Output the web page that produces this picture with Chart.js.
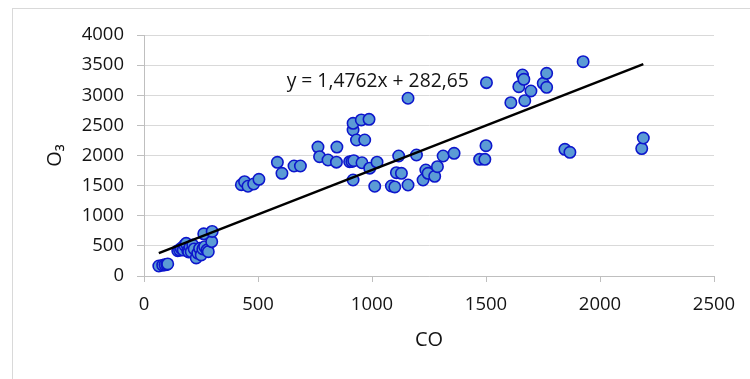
<!DOCTYPE html>
<html>
<head>
<meta charset="utf-8">
<script src="https://cdn.jsdelivr.net/npm/chart.js@4/dist/chart.umd.min.js"></script>
<style>
  html, body { margin: 0; padding: 0; background: #ffffff; }
  #wrap { width: 750px; height: 379px; position: relative; }
</style>
</head>
<body>
<div id="wrap"><canvas id="chart" width="750" height="379"></canvas></div>
<script>
// Paired CO / O3 observations
const coValues = [
  65, 82, 92, 100, 104,
  148, 156, 163, 172, 178, 185, 192, 196, 202, 207, 214, 220, 229, 236, 244, 251, 258, 262, 266, 276, 282, 297, 299,
  427, 441, 456, 481, 504,
  585, 605, 658, 686,
  763, 770, 807, 844, 846,
  902, 912, 920, 956, 917, 917, 917, 953, 987, 932, 968, 990, 1012, 1022,
  1085, 1100, 1107, 1129, 1117, 1158, 1158, 1195, 1224, 1236, 1246, 1275, 1287, 1312, 1360, 1472, 1495, 1500, 1502,
  1609, 1644, 1660, 1666, 1670, 1697, 1751, 1766, 1766, 1846, 1868, 1926, 2183, 2190
];
const o3Values = [
  166, 180, 186, 192, 200,
  420, 431, 459, 430, 514, 542, 415, 400, 480, 403, 514, 450, 300, 380, 459, 349, 450, 700, 487, 430, 403, 570, 740,
  1515, 1565, 1490, 1527, 1605,
  1887, 1704, 1826, 1826,
  2140, 1980, 1925, 1890, 2140,
  1897, 1900, 1914, 1880, 1593, 2423, 2534, 2590, 2600, 2257, 2257, 1790, 1490, 1890,
  1494, 1478, 1715, 1704, 1992, 1510, 2950, 2008, 1593, 1759, 1704, 1655, 1814, 1992, 2036, 1936, 1936, 2163, 3209,
  2877, 3142, 3336, 3265, 2910, 3071, 3198, 3132, 3364, 2103, 2053, 3557, 2115, 2290
];

// Axis ticks
const xTickValues = [0, 500, 1000, 1500, 2000, 2500];
const yTickValues = [0, 500, 1000, 1500, 2000, 2500, 3000, 3500, 4000];

// Linear trend (least squares fit)
const trendSlope = 1.4762;
const trendIntercept = 282.65;
const trendLabel = 'y = 1,4762x + 282,65';
const trendLabelAt = { x: 1025, y: 3220 };

const xTitle = 'CO';
const yTitle = 'O\u2083';

const FONT = "'Open Sans', 'Noto Sans', sans-serif";
const TEXT = '#141414';

const points = coValues.map((x, i) => ({ x: x, y: o3Values[i] }));
const xMin = Math.min(...coValues);
const xMax = Math.max(...coValues);
const trendPoints = [xMin, xMax].map(x => ({ x: x, y: trendSlope * x + trendIntercept }));

// Outer frame of the chart
const framePlugin = {
  id: 'frame',
  beforeDraw(chart) {
    const ctx = chart.ctx;
    ctx.save();
    ctx.fillStyle = '#ffffff';
    ctx.fillRect(0, 0, chart.width, chart.height);
    ctx.strokeStyle = '#d9d9d9';
    ctx.lineWidth = 1;
    ctx.strokeRect(12.5, 8.5, chart.width + 20, chart.height + 20);
    ctx.restore();
  }
};

// Equation of the trend line
const equationPlugin = {
  id: 'equation',
  afterDatasetsDraw(chart) {
    const ctx = chart.ctx;
    const px = chart.scales.x.getPixelForValue(trendLabelAt.x);
    const py = chart.scales.y.getPixelForValue(trendLabelAt.y);
    ctx.save();
    ctx.font = '19.3px ' + FONT;
    ctx.fillStyle = TEXT;
    ctx.textAlign = 'center';
    ctx.textBaseline = 'middle';
    ctx.fillText(trendLabel, px, py);
    ctx.restore();
  }
};

new Chart(document.getElementById('chart'), {
  type: 'scatter',
  data: {
    datasets: [
      {
        type: 'line',
        label: 'trend',
        data: trendPoints,
        borderColor: '#000000',
        borderWidth: 2.5,
        pointRadius: 0,
        fill: false,
        order: 0
      },
      {
        label: 'O3',
        data: points,
        backgroundColor: '#5b9bd5',
        borderColor: '#0d16cc',
        borderWidth: 1.6,
        pointRadius: 5.7,
        pointHoverRadius: 5.7,
        order: 1
      }
    ]
  },
  options: {
    responsive: false,
    animation: false,
    devicePixelRatio: 1,
    layout: { padding: { left: 0, top: 35, right: 36, bottom: 0 } },
    plugins: {
      legend: { display: false },
      tooltip: { enabled: false }
    },
    scales: {
      x: {
        type: 'linear',
        min: 0,
        max: 2500,
        afterBuildTicks(scale) { scale.ticks = xTickValues.map(v => ({ value: v })); },
        afterFit(scale) { scale.height = 103; },
        grid: {
          drawOnChartArea: false,
          drawTicks: true,
          tickLength: 6,
          tickColor: '#bfbfbf',
          color: '#bfbfbf'
        },
        border: { display: true, color: '#bfbfbf', width: 1 },
        ticks: {
          padding: 12,
          color: TEXT,
          font: { family: FONT, size: 18.5 },
          maxRotation: 0,
          callback: v => String(v)
        },
        title: {
          display: true,
          text: xTitle,
          color: TEXT,
          font: { family: FONT, size: 20 },
          padding: { top: 0, bottom: 27 }
        }
      },
      y: {
        type: 'linear',
        min: 0,
        max: 4000,
        afterBuildTicks(scale) { scale.ticks = yTickValues.map(v => ({ value: v })); },
        afterFit(scale) { scale.width = 144; },
        grid: {
          color: '#d9d9d9',
          drawTicks: true,
          tickLength: 7,
          tickColor: '#bfbfbf'
        },
        border: { display: true, color: '#bfbfbf', width: 1 },
        ticks: {
          padding: 13,
          color: TEXT,
          font: { family: FONT, size: 18.5 },
          callback: v => String(v)
        },
        title: {
          display: true,
          text: yTitle,
          color: TEXT,
          font: { family: FONT, size: 20 },
          padding: { top: 43, bottom: 0 }
        }
      }
    }
  },
  plugins: [framePlugin, equationPlugin]
});
</script>
</body>
</html>
